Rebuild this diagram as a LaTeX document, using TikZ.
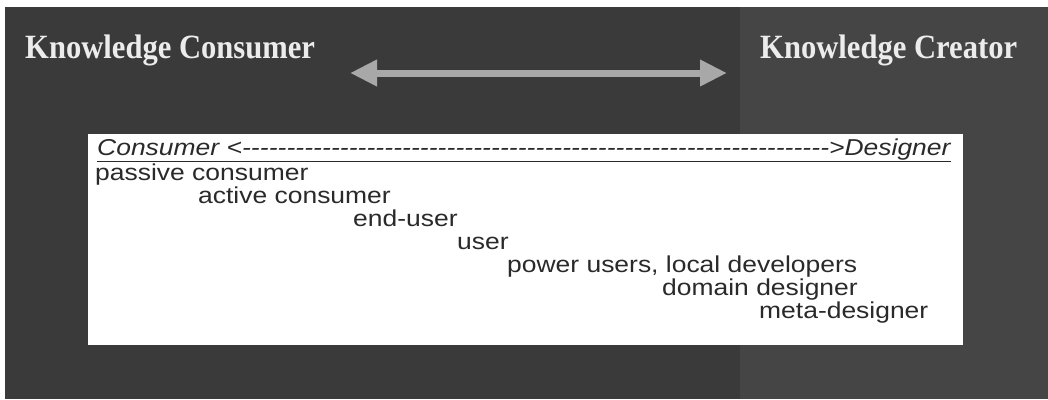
\documentclass[tikz,border=0pt]{standalone}
\usepackage{fontspec}
\setmainfont{Liberation Serif}
\newfontfamily\arialfont{Liberation Sans}
\usetikzlibrary{arrows.meta}
\definecolor{bgdark}{HTML}{3A3A3A}
\definecolor{bglight}{HTML}{454545}
\definecolor{titlecol}{HTML}{ECECEC}
\definecolor{arrowcol}{HTML}{A8A8A8}
\definecolor{inkcol}{HTML}{2A2A2A}
\newcommand\widebox[1]{\scalebox{1.15}[1]{#1}}
\newcommand\narrowbox[1]{\scalebox{0.9}[1]{#1}}
\tikzset{
  titletext/.style={anchor=base west, inner sep=0pt, text=titlecol,
    font=\fontsize{34}{40}\selectfont\bfseries},
  roletext/.style={anchor=base west, inner sep=0pt, text=inkcol,
    font=\arialfont\fontsize{23}{27}\selectfont},
  headtext/.style={anchor=base west, inner sep=0pt, text=inkcol,
    font=\arialfont\itshape\fontsize{23}{27}\selectfont},
  bigarrow/.style={draw=arrowcol, line width=7pt,
    {Triangle[width=25pt,length=27pt]}-{Triangle[width=25pt,length=27pt]}}
}
\begin{document}
\begin{tikzpicture}[x=1pt,y=-1pt]
\useasboundingbox (0,0) rectangle (1048,399);
% background
\fill[bgdark] (5,7) rectangle (1048,399);
\fill[bglight] (740,7) rectangle (1048,399);
% white panel
\fill[white] (88,134) rectangle (963,345);
% titles
\node[titletext] (kcons) at (25,58) {\narrowbox{Knowledge Consumer}};
\node[titletext] (kcrea) at (760,58) {\narrowbox{Knowledge Creator}};
% double arrow
\coordinate (al) at (350,73);
\coordinate (ar) at (727,73);
\draw[bigarrow] (al) -- (ar);
% header line
\node[headtext] (head) at (97,155) {\widebox{\underline{\hbox to 742pt{Consumer <\xleaders\hbox{-}\hfill>Designer}}}};
% roles
\node[roletext] (r1) at (95,180) {\widebox{passive consumer}};
\node[roletext] (r2) at (198,203) {\widebox{active consumer}};
\node[roletext] (r3) at (353,226) {\widebox{end-user}};
\node[roletext] (r4) at (457,249) {\widebox{user}};
\node[roletext] (r5) at (507,272) {\widebox{power users, local developers}};
\node[roletext] (r6) at (662,295) {\widebox{domain designer}};
\node[roletext] (r7) at (759,318) {\widebox{meta-designer}};
\end{tikzpicture}
\end{document}
